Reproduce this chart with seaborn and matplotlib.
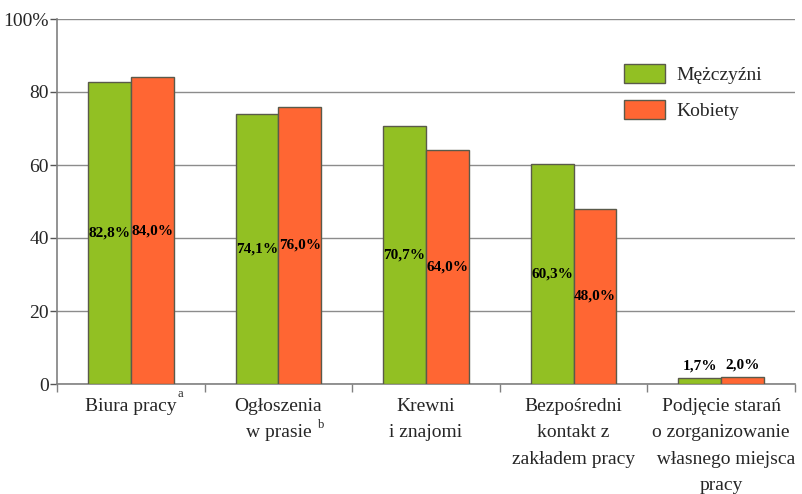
import matplotlib
matplotlib.use("Agg")
import matplotlib.pyplot as plt
import matplotlib.transforms as mtransforms
import seaborn as sns
import pandas as pd
from matplotlib.ticker import FixedLocator

categories = [
    "Biura pracy",
    "Ogłoszenia\nw prasie",
    "Krewni\ni znajomi",
    "Bezpośredni\nkontakt z\nzakładem pracy",
    "Podjęcie starań\no zorganizowanie\n  własnego miejsca\npracy",
]
footnotes = ["a", "b"]
series_names = ["Mężczyźni", "Kobiety"]
men = [82.8, 74.1, 70.7, 60.3, 1.7]
women = [84.0, 76.0, 64.0, 48.0, 2.0]
y_ticks = [0, 20, 40, 60, 80, 100]
y_tick_labels = ["0", "20", "40", "60", "80", "100%"]

colors = ["#92C023", "#FF6633"]

sns.set_theme(style="white")
plt.rcParams["font.family"] = ["Liberation Serif", "DejaVu Serif"]

df = pd.DataFrame({
    "cat": categories * 2,
    "series": [series_names[0]] * len(categories) + [series_names[1]] * len(categories),
    "value": men + women,
})

fig = plt.figure(figsize=(8.02, 4.94), dpi=100)
ax = fig.add_axes([57 / 802, 110 / 494, 738 / 802, 365 / 494])

sns.barplot(data=df, x="cat", y="value", hue="series", order=categories,
            hue_order=series_names, palette=colors, saturation=1, width=0.58, gap=0,
            edgecolor="#5a5a4a", linewidth=1.0, ax=ax, zorder=3)

ax.set_xlim(-0.5, len(categories) - 0.5)
ax.set_ylim(0, 100)
ax.set_xlabel("")
ax.set_ylabel("")

ax.set_yticks(y_ticks)
ax.set_yticklabels(y_tick_labels, fontsize=14)
ax.yaxis.grid(True, color="#8c8c8c", linewidth=1.0, zorder=0)
ax.set_axisbelow(True)
ax.tick_params(axis="y", which="major", length=5, width=1, color="#555555", pad=1, direction="out", left=True)

ax.set_xticks(range(len(categories)))
ax.set_xticklabels(categories, fontsize=14, linespacing=1.72, va="top")
ax.tick_params(axis="x", which="major", length=0, pad=10)
ax.xaxis.set_minor_locator(FixedLocator([i - 0.5 for i in range(len(categories) + 1)]))
ax.tick_params(axis="x", which="minor", length=6, width=1, color="#808080", bottom=True, direction="out")

# footnote superscripts on the first two category labels
trans = mtransforms.blended_transform_factory(ax.transData, ax.transAxes)
ax.text(0.315, -0.027, footnotes[0], transform=trans, fontsize=9, ha="left", va="center")
ax.text(1.265, -0.112, footnotes[1], transform=trans, fontsize=9, ha="left", va="center")

for s in ["top", "right"]:
    ax.spines[s].set_visible(False)
for s in ["left", "bottom"]:
    ax.spines[s].set_color("#808080")
    ax.spines[s].set_linewidth(1.2)

for cont in ax.containers:
    for bar in cont:
        v = bar.get_height()
        x = bar.get_x() + bar.get_width() / 2
        txt = f"{v:.1f}".replace(".", ",") + "%"
        if v < 10:
            ax.text(x, v + 1.5, txt, ha="center", va="bottom", fontsize=11,
                    fontweight="bold", color="black", zorder=5)
        else:
            ax.text(x, v / 2, txt, ha="center", va="center", fontsize=11,
                    fontweight="bold", color="black", zorder=5)

leg = ax.legend(loc="upper left", bbox_to_anchor=(0.745, 0.925), frameon=False,
                fontsize=14, handlelength=2.1, handleheight=1.1,
                labelspacing=0.85, handletextpad=0.6)
for h in leg.legend_handles:
    h.set_edgecolor("#5a5a4a")
    h.set_linewidth(1.0)

fig.savefig("out.png", dpi=100)
